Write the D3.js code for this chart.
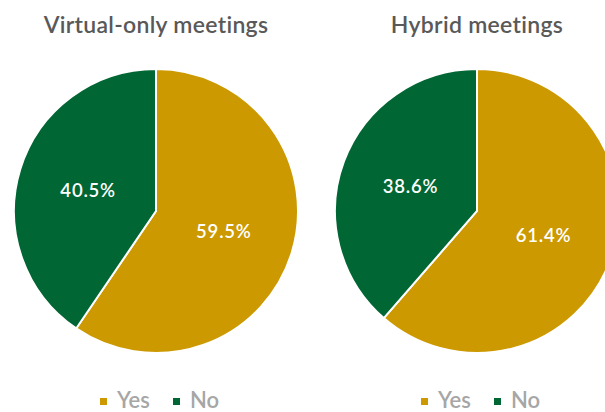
<!DOCTYPE html>
<html>
<head>
<meta charset="utf-8">
<script src="https://cdn.jsdelivr.net/npm/d3@7"></script>
<style>
  html, body { margin: 0; padding: 0; background: #fff; }
  svg { display: block; font-family: "Lato", "Open Sans", sans-serif; }
</style>
</head>
<body>
<svg id="chart" width="605" height="412"></svg>
<script>
// Survey answers, in percent
const titles = ["Virtual-only meetings", "Hybrid meetings"];
const categories = ["Yes", "No"];
const virtualValues = [59.5, 40.5];
const hybridValues = [61.4, 38.6];
const colors = ["#CC9900", "#006633"];

const panels = [
  { title: titles[0], values: virtualValues, cx: 156 },
  { title: titles[1], values: hybridValues, cx: 477 }
];

const svg = d3.select("#chart");
const radius = 142;
const cy = 211;

const color = d3.scaleOrdinal().domain(categories).range(colors);
const pie = d3.pie().sort(null).value(d => d.value);
const arc = d3.arc().innerRadius(0).outerRadius(radius);

panels.forEach(p => {
  const data = categories.map((c, i) => ({ category: c, value: p.values[i] }));
  const g = svg.append("g").attr("transform", `translate(${p.cx},${cy})`);

  svg.append("text")
    .attr("x", p.cx)
    .attr("y", 33)
    .attr("text-anchor", "middle")
    .attr("fill", "#595959")
    .attr("font-size", 23)
    .attr("font-weight", 600)
    .attr("letter-spacing", 0.3)
    .text(p.title);

  const arcs = pie(data);

  g.selectAll("path")
    .data(arcs)
    .join("path")
    .attr("d", arc)
    .attr("fill", d => color(d.data.category))
    .attr("stroke", "#fff")
    .attr("stroke-width", 2)
    .attr("stroke-linejoin", "miter");

  g.selectAll("text.value")
    .data(arcs)
    .join("text")
    .attr("class", "value")
    .attr("transform", d => `translate(${arc.centroid(d)})`)
    .attr("text-anchor", "middle")
    .attr("dy", "0.35em")
    .attr("fill", "#fff")
    .attr("font-size", 18.5)
    .attr("font-weight", 600)
    .attr("letter-spacing", 0.8)
    .text(d => d.data.value.toFixed(1) + "%");

  // Legend beneath each pie
  const legend = svg.append("g").attr("transform", `translate(${p.cx - 56},408)`);
  const items = [
    { c: "Yes", x: 0 },
    { c: "No", x: 73 }
  ];
  items.forEach(it => {
    legend.append("rect")
      .attr("x", it.x)
      .attr("y", -10)
      .attr("width", 7)
      .attr("height", 7)
      .attr("fill", color(it.c));
    legend.append("text")
      .attr("x", it.x + 17)
      .attr("y", 0)
      .attr("fill", "#A6A6A6")
      .attr("font-size", 22)
      .attr("font-weight", 600)
      .text(it.c);
  });
});
</script>
</body>
</html>
